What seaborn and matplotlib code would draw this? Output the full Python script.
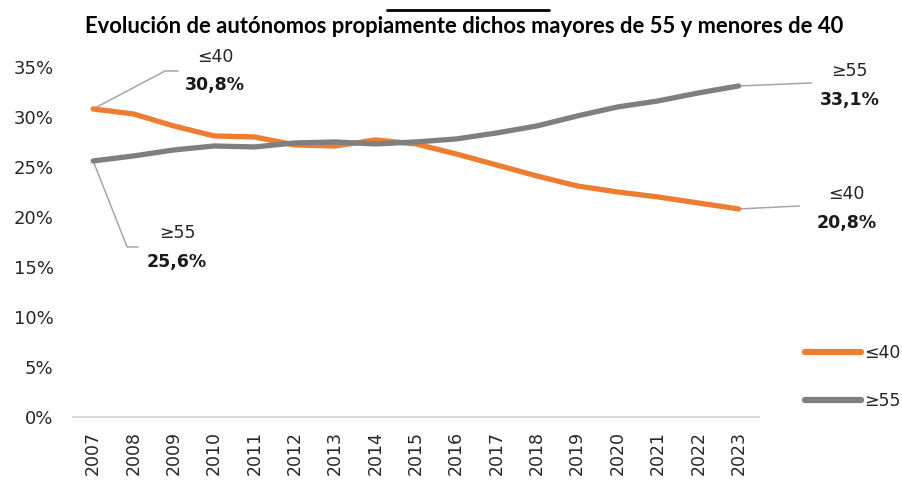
import matplotlib
matplotlib.use("Agg")
import matplotlib.pyplot as plt
import pandas as pd
import seaborn as sns

years = list(range(2007, 2024))
menores_40 = [30.8, 30.3, 29.1, 28.1, 28.0, 27.2, 27.1, 27.7, 27.3, 26.3,
              25.2, 24.1, 23.1, 22.5, 22.0, 21.4, 20.8]
mayores_55 = [25.6, 26.1, 26.7, 27.1, 27.0, 27.4, 27.5, 27.3, 27.5, 27.8,
              28.4, 29.1, 30.1, 31.0, 31.6, 32.4, 33.1]
series_names = ["≤40", "≥55"]
colors = {"≤40": "#ED7D31", "≥55": "#7F7F7F"}
title = "Evolución de autónomos propiamente dichos mayores de 55 y menores de 40"

df = pd.concat([
    pd.DataFrame({"year": years, "pct": menores_40, "grupo": "≤40"}),
    pd.DataFrame({"year": years, "pct": mayores_55, "grupo": "≥55"}),
], ignore_index=True)

sns.set_style("white")
plt.rcParams["font.family"] = ["DejaVu Sans"]

fig = plt.figure(figsize=(9.03, 4.82), dpi=100)
ax = fig.add_axes([0.0808, 0.1349, 0.7595, 0.7262])

sns.lineplot(data=df, x="year", y="pct", hue="grupo", palette=colors,
             hue_order=series_names, linewidth=3.8, ax=ax, legend=False)
for line in ax.lines:
    line.set_solid_capstyle("round")

ax.set_xlim(2006.5, 2023.5)
ax.set_ylim(0, 35)
ax.set_xticks(years)
ax.set_xticklabels([str(y) for y in years], rotation=90, fontsize=12.5, color="#262626")
ax.set_yticks(range(0, 36, 5))
ax.set_yticklabels([f"{v}%" for v in range(0, 36, 5)], fontsize=13, color="#262626")
ax.tick_params(axis="both", length=0)
ax.tick_params(axis="y", pad=14)
ax.tick_params(axis="x", pad=10)
ax.set_xlabel("")
ax.set_ylabel("")
for side in ["left", "right", "top"]:
    ax.spines[side].set_visible(False)
ax.spines["bottom"].set_color("#D9D9D9")
ax.spines["bottom"].set_linewidth(1.5)


def px_to_data(x, y, dx, dy):
    # offset a data point by (dx, dy) pixels, dy measured downward
    px, py = ax.transData.transform((x, y))
    return ax.transData.inverted().transform((px + dx, py - dy))


def callout(year, value, name, path, text_dx, name_dy, value_dy):
    pts = [(year, value)] + [tuple(px_to_data(year, value, dx, dy)) for dx, dy in path]
    xs, ys = zip(*pts)
    ax.plot(xs, ys, color="#A6A6A6", linewidth=1.1, clip_on=False, zorder=1)
    tx, ty = px_to_data(year, value, text_dx, name_dy)
    ax.text(tx, ty, name, ha="center", va="center", fontsize=12.5,
            color="#262626", clip_on=False)
    tx, ty = px_to_data(year, value, text_dx, value_dy)
    ax.text(tx, ty, f"{value:.1f}%".replace(".", ","), ha="center", va="center",
            fontsize=12.5, fontweight="bold", color="#1a1a1a", clip_on=False)


i0, i1 = 0, len(years) - 1
callout(years[i0], menores_40[i0], "≤40", [(72, -38), (85, -38)], 122, -52, -24)
callout(years[i0], mayores_55[i0], "≥55", [(34, 86), (45, 86)], 84, 72, 101)
callout(years[i1], mayores_55[i1], "≥55", [(73, -3)], 111, -15, 14)
callout(years[i1], menores_40[i1], "≤40", [(61, -3)], 108, -15, 14)

handles = [plt.Line2D([], [], color=colors[n], linewidth=4.5, solid_capstyle="round")
           for n in series_names]
fig.legend(handles, series_names, loc="center left",
           bbox_to_anchor=(805 / 903, 1 - 377 / 482), bbox_transform=fig.transFigure,
           frameon=False, fontsize=12.5, handlelength=3.2, handletextpad=0.2,
           labelspacing=1.75, borderpad=0, borderaxespad=0, labelcolor="#262626")

fig.text(0.514, 0.944, title, ha="center", va="center", fontsize=15.8,
         fontweight="bold", color="black", family=["Lato", "DejaVu Sans"])
fig.add_artist(plt.Line2D([387 / 903, 549 / 903], [0.979, 0.979], color="black",
                          linewidth=2, transform=fig.transFigure))

fig.savefig("out.png", dpi=100)
